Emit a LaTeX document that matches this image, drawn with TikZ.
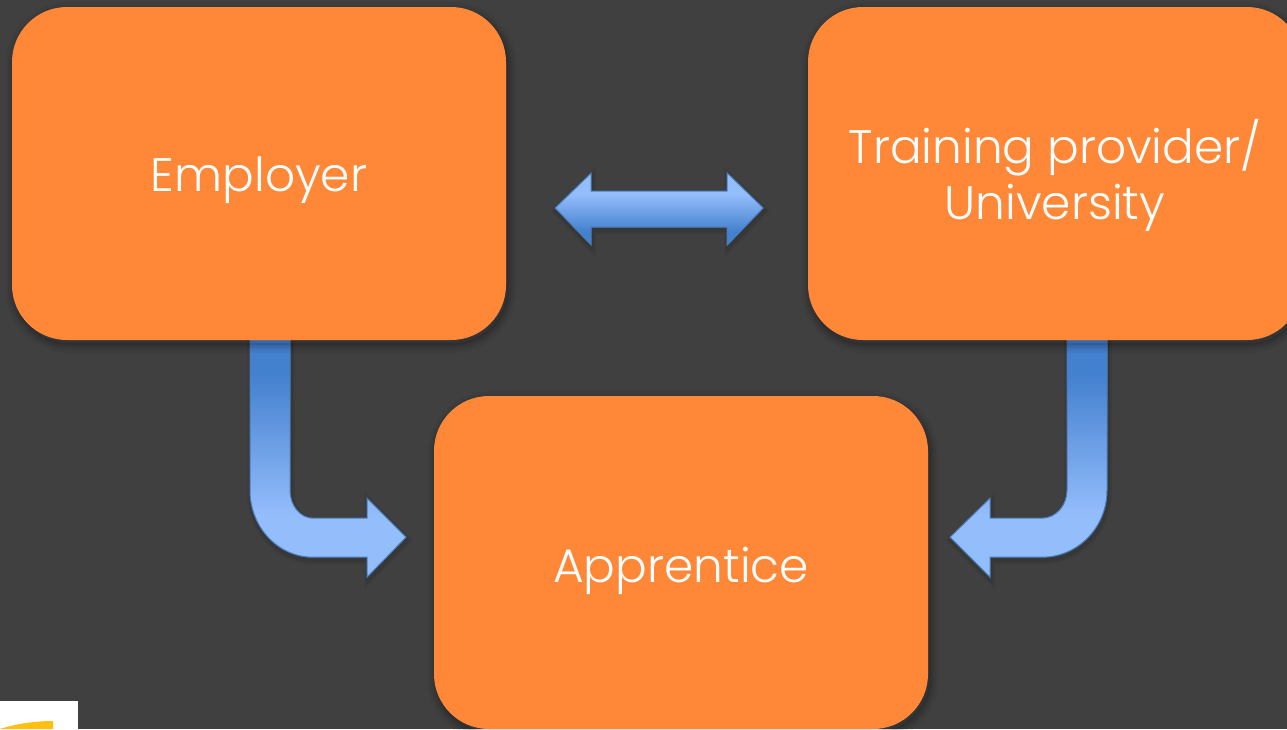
\documentclass[tikz,border=0pt]{standalone}
\usepackage{fontspec}
\setmainfont[UprightFont=* Light]{Poppins}
\usetikzlibrary{backgrounds}
\definecolor{slidebg}{HTML}{404040}
\definecolor{boxorange}{HTML}{FF8838}
\definecolor{arrowedge}{HTML}{4A7EBB}
\definecolor{arrowdark}{HTML}{4380CE}
\definecolor{arrowlite}{HTML}{94BDFC}
\definecolor{logoyellow}{HTML}{FDC010}
\pgfdeclareverticalshading{bentfill}{100bp}{color(0bp)=(arrowlite); color(38bp)=(arrowlite); color(68bp)=(arrowdark); color(100bp)=(arrowdark)}
\pgfdeclareverticalshading{linkfill}{100bp}{color(0bp)=(arrowdark); color(34bp)=(arrowdark); color(60bp)=(arrowlite); color(100bp)=(arrowlite)}
\tikzset{
    boxshadow/.style = {
        preaction={draw=black,line width=18pt,opacity=.04,transform canvas={shift={(2pt,-4pt)}}},
        preaction={draw=black,line width=12pt,opacity=.06,transform canvas={shift={(2pt,-4pt)}}},
        preaction={draw=black,line width=7pt,opacity=.08,transform canvas={shift={(2pt,-4pt)}}},
        preaction={draw=black,line width=2pt,opacity=.10,transform canvas={shift={(2pt,-4pt)}}}},
    arrowshadow/.style = {
        preaction={draw=black,line width=8pt,opacity=.05,transform canvas={shift={(1pt,-3pt)}}},
        preaction={draw=black,line width=4pt,opacity=.08,transform canvas={shift={(1pt,-3pt)}}}},
    mybox/.style = {rectangle, rounded corners=55pt, fill=boxorange, align=center, text=white,
        minimum width=494pt, minimum height=333pt, inner sep=0pt, boxshadow,
        font=\fontsize{47}{56}\selectfont},
    myarrow/.style = {draw=arrowedge, line width=1pt, line join=miter, arrowshadow},
    bentarrow/.style = {myarrow, shading=bentfill},
    linkarrow/.style = {myarrow, shading=linkfill}
}

\begin{document}
\begin{tikzpicture}[x=1pt,y=-1pt]
\useasboundingbox (0,0) rectangle (1287,729);

\node[mybox,text height=35pt,text depth=0pt] at ( 259.0, 173.5) (employer) {Employer};
\node[mybox,text height=91pt,text depth=0pt] at (1055.0, 173.5) (provider) {Training provider/\\University};
\node[mybox,text height=39pt,text depth=0pt] at ( 681.0, 562.5) (apprentice) {Apprentice};

\begin{scope}[on background layer]
\fill[slidebg] (0,0) rectangle (1287,729);
% employer to apprentice
\draw[bentarrow] ([xshift=-9pt]employer.south) -- ++(0,150)
    .. controls +(0,37) and +(-35,0) .. ++(63,67) -- ++(54,0) -- ++(0,20)
    -- ++(39,-40) -- ++(-39,-39) -- ++(0,20) -- ++(-54,0)
    .. controls +(-13,0) and +(0,15) .. ++(-23,-28) -- ++(0,-150) -- cycle;
% provider to apprentice
\draw[bentarrow] ([xshift=52pt]provider.south) -- ++(0,150)
    .. controls +(0,37) and +(36,0) .. ++(-65,67) -- ++(-52,0) -- ++(0,20)
    -- ++(-40,-40) -- ++(40,-39) -- ++(0,20) -- ++(52,0)
    .. controls +(14,0) and +(0,15) .. ++(25,-28) -- ++(0,-150) -- cycle;
% employer and provider
\draw[linkarrow] ([shift={(49,34.5)}]employer.east) -- ++(36,-35) -- ++(0,18)
    -- ++(136,0) -- ++(0,-18) -- ++(36,35) -- ++(-36,37) -- ++(0,-18)
    -- ++(-136,0) -- ++(0,18) -- cycle;
\end{scope}

% corner of the logo
\fill[white] (0,701) rectangle (78,729);
\fill[logoyellow] (0,729) .. controls (15,724) and (35,721) .. (53,721) -- (53,729) -- cycle;

\end{tikzpicture}
\end{document}
